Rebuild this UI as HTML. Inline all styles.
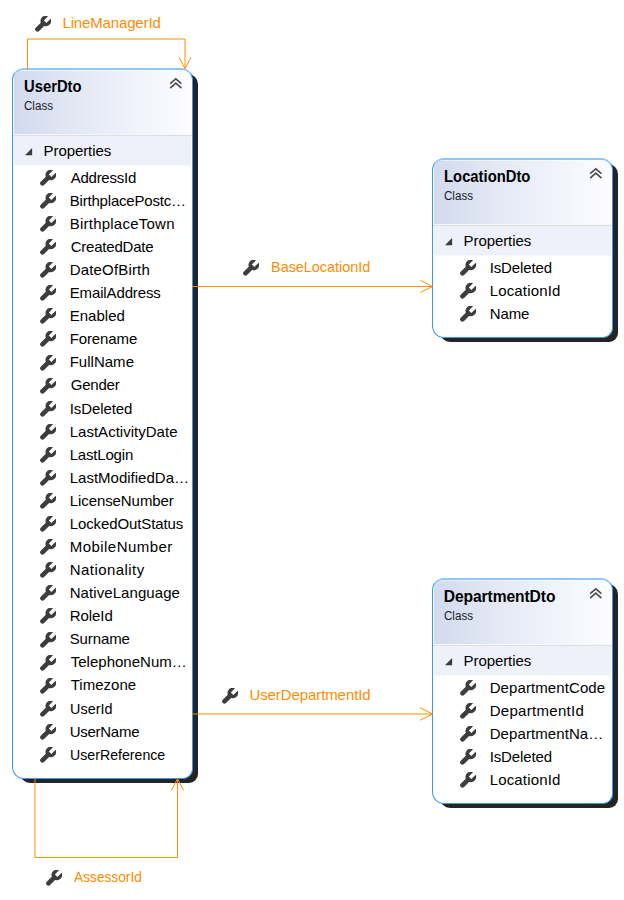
<!DOCTYPE html>
<html><head><meta charset="utf-8">
<style>
html,body{margin:0;padding:0;background:#fff;}
body{width:624px;height:900px;position:relative;overflow:hidden;font-family:"Liberation Sans",sans-serif;color:#000;}
.box{position:absolute;box-sizing:border-box;border:1px solid #3399ff;border-top:2px solid #8ec6ff;border-radius:12px 12px 10px 12px;background:#fff;overflow:hidden;}
.shd{position:absolute;border-radius:10px 10px 9px 12px;background:#242424;}
.hdr{position:absolute;left:1px;top:0;right:1px;height:64px;box-shadow:inset 0 1px 0 rgba(255,255,255,.55);background:linear-gradient(90deg,#d2daee 0%,#e3e8f4 35%,#eef1fa 62%,#fdfdff 100%);}
.sep{position:absolute;left:0;right:0;top:64px;height:3px;background:linear-gradient(#f3f5fa 0,#f3f5fa 1px,#dfe0e3 1px,#dfe0e3 2px,#f1f2f6 2px);}
.band{position:absolute;left:1px;right:1px;top:67px;height:29px;background:linear-gradient(#eef1f9 0,#eef1f9 28px,#f6f8fc 28px);}
.title,.cls,.it,.lbl{position:absolute;white-space:nowrap;line-height:20px;}
.title{font-weight:bold;font-size:15.6px;}
.cls{font-size:12.5px;color:#1a1a2a;}
.it{font-size:15px;color:#000;}
.lbl{font-size:15px;color:#ff8c00;}
.chev,.tri,.w{position:absolute;}
.w{overflow:visible;}
</style></head>
<body>
<svg width="0" height="0" style="position:absolute">
<defs>
<symbol id="wr" viewBox="0 0 16 16">
<path d="M13.0 0.18 L8.9 4.5 L11.4 7.0 L15.62 2.79 A5.3 5.3 0 0 1 9.1 10.02 L4.06 15.06 A2.35 2.35 0 0 1 0.74 11.74 L5.78 6.7 A5.3 5.3 0 0 1 13.0 0.18 Z" fill="#3d3d3d"/>
</symbol>
</defs>
</svg>
<div class="shd" style="left:19px;top:74px;width:179px;height:709px"></div>
<div class="box" style="left:12px;top:68px;width:181px;height:711px">
<div class="hdr"></div><div class="sep"></div><div class="band"></div></div>
<div class="title" style="left:23.80px;top:76.50px;transform:scaleX(0.9483);transform-origin:1px 0">UserDto</div>
<div class="cls" style="left:24.40px;top:95.80px;transform:scaleX(0.9274);transform-origin:0px 0">Class</div>
<svg class="chev" style="left:168px;top:75px" width="16" height="14" viewBox="0 0 16 14"><path d="M2.2 8.7 L7.8 3.9 L13.4 8.7 M2.2 13.2 L7.8 8.1 L13.4 13.2" stroke="#4d4d4d" stroke-width="1.6" fill="none"/></svg>
<svg class="tri" style="left:25px;top:147.6px" width="8" height="8" viewBox="0 0 8 8"><path d="M7.1 0 L7.1 7.2 L0 7.2 Z" fill="#3c3c3c"/></svg>
<div class="it" style="left:43.60px;top:140.70px;letter-spacing:-0.083px">Properties</div>
<div class="it" style="left:70.70px;top:167.70px;letter-spacing:-0.250px">AddressId</div>
<svg class="w" style="left:40px;top:169.90px" width="16" height="16"><use href="#wr"/></svg>
<div class="it" style="left:69.70px;top:190.78px;letter-spacing:-0.187px">BirthplacePostc…</div>
<svg class="w" style="left:40px;top:192.98px" width="16" height="16"><use href="#wr"/></svg>
<div class="it" style="left:69.70px;top:213.86px;letter-spacing:0.238px">BirthplaceTown</div>
<svg class="w" style="left:40px;top:216.06px" width="16" height="16"><use href="#wr"/></svg>
<div class="it" style="left:70.70px;top:236.94px;letter-spacing:-0.210px">CreatedDate</div>
<svg class="w" style="left:40px;top:239.14px" width="16" height="16"><use href="#wr"/></svg>
<div class="it" style="left:69.70px;top:260.02px;letter-spacing:0.175px">DateOfBirth</div>
<svg class="w" style="left:40px;top:262.22px" width="16" height="16"><use href="#wr"/></svg>
<div class="it" style="left:69.70px;top:283.10px;letter-spacing:-0.127px">EmailAddress</div>
<svg class="w" style="left:40px;top:285.30px" width="16" height="16"><use href="#wr"/></svg>
<div class="it" style="left:69.70px;top:306.18px;letter-spacing:0.033px">Enabled</div>
<svg class="w" style="left:40px;top:308.38px" width="16" height="16"><use href="#wr"/></svg>
<div class="it" style="left:69.70px;top:329.26px;letter-spacing:-0.107px">Forename</div>
<svg class="w" style="left:40px;top:331.46px" width="16" height="16"><use href="#wr"/></svg>
<div class="it" style="left:69.70px;top:352.34px;letter-spacing:0.014px">FullName</div>
<svg class="w" style="left:40px;top:354.54px" width="16" height="16"><use href="#wr"/></svg>
<div class="it" style="left:70.70px;top:375.42px;letter-spacing:-0.200px">Gender</div>
<svg class="w" style="left:40px;top:377.62px" width="16" height="16"><use href="#wr"/></svg>
<div class="it" style="left:69.70px;top:398.50px;letter-spacing:-0.088px">IsDeleted</div>
<svg class="w" style="left:40px;top:400.70px" width="16" height="16"><use href="#wr"/></svg>
<div class="it" style="left:69.70px;top:421.58px;letter-spacing:0.017px">LastActivityDate</div>
<svg class="w" style="left:40px;top:423.78px" width="16" height="16"><use href="#wr"/></svg>
<div class="it" style="left:69.70px;top:444.66px;letter-spacing:-0.188px">LastLogin</div>
<svg class="w" style="left:40px;top:446.86px" width="16" height="16"><use href="#wr"/></svg>
<div class="it" style="left:69.70px;top:467.74px;letter-spacing:0.007px">LastModifiedDa…</div>
<svg class="w" style="left:40px;top:469.94px" width="16" height="16"><use href="#wr"/></svg>
<div class="it" style="left:69.70px;top:490.82px;letter-spacing:-0.075px">LicenseNumber</div>
<svg class="w" style="left:40px;top:493.02px" width="16" height="16"><use href="#wr"/></svg>
<div class="it" style="left:69.70px;top:513.90px;letter-spacing:-0.107px">LockedOutStatus</div>
<svg class="w" style="left:40px;top:516.10px" width="16" height="16"><use href="#wr"/></svg>
<div class="it" style="left:69.70px;top:536.98px;letter-spacing:0.464px">MobileNumber</div>
<svg class="w" style="left:40px;top:539.18px" width="16" height="16"><use href="#wr"/></svg>
<div class="it" style="left:69.70px;top:560.06px;letter-spacing:0.450px">Nationality</div>
<svg class="w" style="left:40px;top:562.26px" width="16" height="16"><use href="#wr"/></svg>
<div class="it" style="left:69.70px;top:583.14px;letter-spacing:0.077px">NativeLanguage</div>
<svg class="w" style="left:40px;top:585.34px" width="16" height="16"><use href="#wr"/></svg>
<div class="it" style="left:69.70px;top:606.22px;letter-spacing:-0.060px">RoleId</div>
<svg class="w" style="left:40px;top:608.42px" width="16" height="16"><use href="#wr"/></svg>
<div class="it" style="left:69.70px;top:629.30px;letter-spacing:-0.100px">Surname</div>
<svg class="w" style="left:40px;top:631.50px" width="16" height="16"><use href="#wr"/></svg>
<div class="it" style="left:70.70px;top:652.38px;letter-spacing:0.017px">TelephoneNum…</div>
<svg class="w" style="left:40px;top:654.58px" width="16" height="16"><use href="#wr"/></svg>
<div class="it" style="left:70.70px;top:675.46px;letter-spacing:0.029px">Timezone</div>
<svg class="w" style="left:40px;top:677.66px" width="16" height="16"><use href="#wr"/></svg>
<div class="it" style="left:69.70px;top:698.54px;transform:scaleX(0.9593);transform-origin:1px 0">UserId</div>
<svg class="w" style="left:40px;top:700.74px" width="16" height="16"><use href="#wr"/></svg>
<div class="it" style="left:69.70px;top:721.62px;letter-spacing:-0.271px">UserName</div>
<svg class="w" style="left:40px;top:723.82px" width="16" height="16"><use href="#wr"/></svg>
<div class="it" style="left:69.70px;top:744.70px;transform:scaleX(0.9430);transform-origin:1px 0">UserReference</div>
<svg class="w" style="left:40px;top:746.90px" width="16" height="16"><use href="#wr"/></svg>
<div class="shd" style="left:439px;top:164px;width:179px;height:178px"></div>
<div class="box" style="left:432px;top:158px;width:181px;height:180px">
<div class="hdr"></div><div class="sep"></div><div class="band"></div></div>
<div class="title" style="left:443.80px;top:166.50px;transform:scaleX(0.9489);transform-origin:1px 0">LocationDto</div>
<div class="cls" style="left:444.40px;top:185.80px;transform:scaleX(0.9274);transform-origin:0px 0">Class</div>
<svg class="chev" style="left:588px;top:165px" width="16" height="14" viewBox="0 0 16 14"><path d="M2.2 8.7 L7.8 3.9 L13.4 8.7 M2.2 13.2 L7.8 8.1 L13.4 13.2" stroke="#4d4d4d" stroke-width="1.6" fill="none"/></svg>
<svg class="tri" style="left:445px;top:237.6px" width="8" height="8" viewBox="0 0 8 8"><path d="M7.1 0 L7.1 7.2 L0 7.2 Z" fill="#3c3c3c"/></svg>
<div class="it" style="left:463.60px;top:230.70px;letter-spacing:-0.083px">Properties</div>
<div class="it" style="left:489.70px;top:257.70px;letter-spacing:-0.125px">IsDeleted</div>
<svg class="w" style="left:460px;top:259.90px" width="16" height="16"><use href="#wr"/></svg>
<div class="it" style="left:489.70px;top:280.78px;letter-spacing:0.156px">LocationId</div>
<svg class="w" style="left:460px;top:282.98px" width="16" height="16"><use href="#wr"/></svg>
<div class="it" style="left:489.70px;top:303.86px;letter-spacing:-0.083px">Name</div>
<svg class="w" style="left:460px;top:306.06px" width="16" height="16"><use href="#wr"/></svg>
<div class="shd" style="left:439px;top:584px;width:179px;height:224px"></div>
<div class="box" style="left:432px;top:578px;width:181px;height:226px">
<div class="hdr"></div><div class="sep"></div><div class="band"></div></div>
<div class="title" style="left:443.80px;top:586.50px;letter-spacing:-0.083px">DepartmentDto</div>
<div class="cls" style="left:444.40px;top:605.80px;transform:scaleX(0.9274);transform-origin:0px 0">Class</div>
<svg class="chev" style="left:588px;top:585px" width="16" height="14" viewBox="0 0 16 14"><path d="M2.2 8.7 L7.8 3.9 L13.4 8.7 M2.2 13.2 L7.8 8.1 L13.4 13.2" stroke="#4d4d4d" stroke-width="1.6" fill="none"/></svg>
<svg class="tri" style="left:445px;top:657.6px" width="8" height="8" viewBox="0 0 8 8"><path d="M7.1 0 L7.1 7.2 L0 7.2 Z" fill="#3c3c3c"/></svg>
<div class="it" style="left:463.60px;top:650.70px;letter-spacing:-0.083px">Properties</div>
<div class="it" style="left:489.70px;top:677.70px;letter-spacing:0.092px">DepartmentCode</div>
<svg class="w" style="left:460px;top:679.90px" width="16" height="16"><use href="#wr"/></svg>
<div class="it" style="left:489.70px;top:700.78px;letter-spacing:0.300px">DepartmentId</div>
<svg class="w" style="left:460px;top:702.98px" width="16" height="16"><use href="#wr"/></svg>
<div class="it" style="left:489.70px;top:723.86px;letter-spacing:0.083px">DepartmentNa…</div>
<svg class="w" style="left:460px;top:726.06px" width="16" height="16"><use href="#wr"/></svg>
<div class="it" style="left:489.70px;top:746.94px;letter-spacing:-0.125px">IsDeleted</div>
<svg class="w" style="left:460px;top:749.14px" width="16" height="16"><use href="#wr"/></svg>
<div class="it" style="left:489.70px;top:770.02px;letter-spacing:0.156px">LocationId</div>
<svg class="w" style="left:460px;top:772.22px" width="16" height="16"><use href="#wr"/></svg>
<svg width="624" height="900" style="position:absolute;left:0;top:0" fill="none">
<g stroke="#ff8c00" stroke-width="1">
<polyline points="27.5,69.5 27.5,39 185,39 185,68.5"/>
<polyline points="179,57.2 185,68.8 191,57.2"/>
<line x1="192" y1="286.5" x2="432.5" y2="286.5"/>
<polyline points="420.3,280.3 432.5,286.5 420.3,292.5"/>
<line x1="192" y1="714" x2="432.5" y2="714"/>
<polyline points="420.3,707.8 432.5,714 420.3,720.2"/>
<polyline points="35,779 35,857.5 177.5,857.5 177.5,779"/>
<polyline points="171.3,790.5 177.5,778.8 183.7,790.5"/>
</g>
</svg>
<div class="lbl" style="left:62.50px;top:13.10px;letter-spacing:-0.150px">LineManagerId</div>
<svg class="w" style="left:34.90px;top:16.10px" width="16" height="16"><use href="#wr"/></svg>
<div class="lbl" style="left:270.80px;top:256.80px;transform:scaleX(0.9598);transform-origin:1px 0">BaseLocationId</div>
<svg class="w" style="left:243.20px;top:259.80px" width="16" height="16"><use href="#wr"/></svg>
<div class="lbl" style="left:249.40px;top:684.50px;letter-spacing:-0.087px">UserDepartmentId</div>
<svg class="w" style="left:221.80px;top:687.50px" width="16" height="16"><use href="#wr"/></svg>
<div class="lbl" style="left:74.20px;top:866.80px;transform:scaleX(0.9149);transform-origin:0px 0">AssessorId</div>
<svg class="w" style="left:45.60px;top:869.80px" width="16" height="16"><use href="#wr"/></svg>
</body></html>
